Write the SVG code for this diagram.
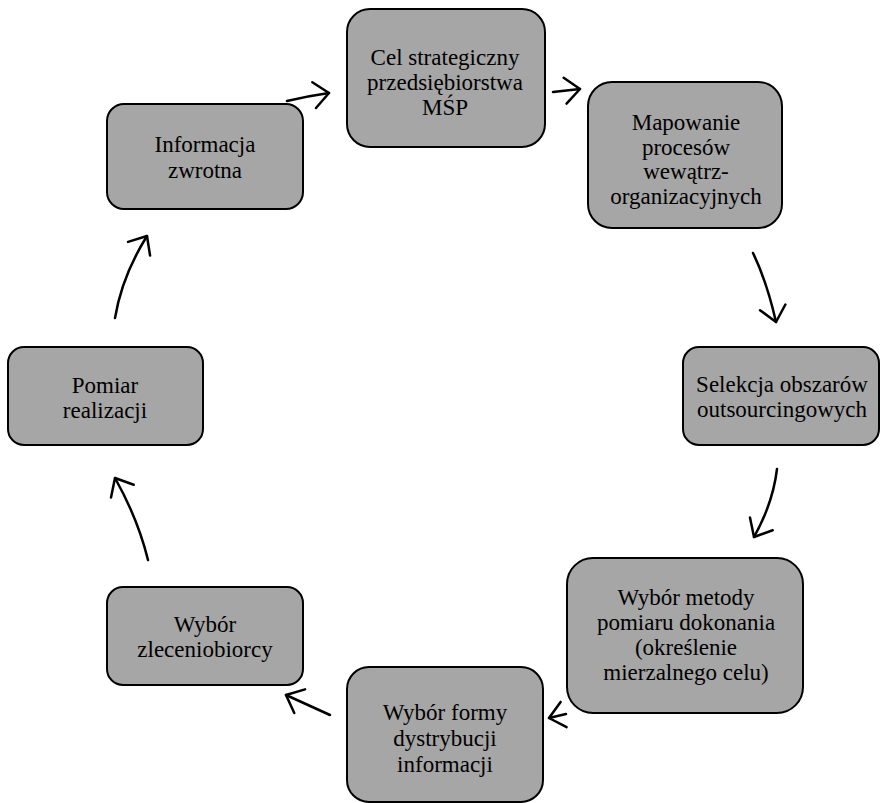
<svg xmlns="http://www.w3.org/2000/svg" width="880" height="803" viewBox="0 0 880 803">
<style>
.box{fill:#a6a6a6;stroke:#000;stroke-width:2}
.t{font-family:'Liberation Serif','Times New Roman',serif;font-size:23px;fill:#000;text-anchor:middle}
.c{fill:none;stroke:#000;stroke-width:2.5;stroke-linecap:round}
</style>
<defs>
<marker id="ah" markerUnits="userSpaceOnUse" viewBox="0 0 22 28" markerWidth="22" markerHeight="28" refX="19" refY="13" orient="auto" overflow="visible">
<path d="M4,0 L19,13 L4,26" fill="none" stroke="#000" stroke-width="2.5" stroke-linecap="round" stroke-linejoin="round"/>
</marker>
</defs>
<rect width="880" height="803" fill="#fff"/>
<g id="n1"><rect class="box" x="347" y="9" width="198" height="138" rx="23"/>
<text class="t" x="445" y="65">Cel strategiczny</text><text class="t" x="445" y="90">przedsiębiorstwa</text><text class="t" x="445" y="115">MŚP</text></g>
<g id="n2"><rect class="box" x="588" y="82" width="194" height="146" rx="24"/>
<text class="t" x="686" y="130">Mapowanie</text><text class="t" x="686" y="154.5">procesów</text><text class="t" x="686" y="179">wewątrz-</text><text class="t" x="686" y="203.5">organizacyjnych</text></g>
<g id="n3"><rect class="box" x="683" y="347" width="196" height="98" rx="16"/>
<text class="t" x="782" y="392">Selekcja obszarów</text><text class="t" x="782" y="417">outsourcingowych</text></g>
<g id="n4"><rect class="box" x="567" y="558" width="236" height="155" rx="26"/>
<text class="t" x="686" y="605">Wybór metody</text><text class="t" x="686" y="630">pomiaru dokonania</text><text class="t" x="686" y="655">(określenie</text><text class="t" x="686" y="680">mierzalnego celu)</text></g>
<g id="n5"><rect class="box" x="347" y="667" width="196" height="135" rx="22"/>
<text class="t" x="445" y="720">Wybór formy</text><text class="t" x="445" y="746">dystrybucji</text><text class="t" x="445" y="772">informacji</text></g>
<g id="n6"><rect class="box" x="107" y="587" width="196" height="98" rx="16"/>
<text class="t" x="205" y="632">Wybór</text><text class="t" x="205" y="657">zleceniobiorcy</text></g>
<g id="n7"><rect class="box" x="8" y="347" width="195" height="98" rx="16"/>
<text class="t" x="105" y="393">Pomiar</text><text class="t" x="105" y="418">realizacji</text></g>
<g id="n8"><rect class="box" x="107" y="104" width="196" height="105" rx="17"/>
<text class="t" x="205" y="152">Informacja</text><text class="t" x="205" y="178">zwrotna</text></g>
<g id="connectors">
<path class="c" d="M287,101 Q308,96 329,93" marker-end="url(#ah)"/>
<path class="c" d="M553,92 L580,89" marker-end="url(#ah)"/>
<path class="c" d="M753,253 Q767,282 776,322" marker-end="url(#ah)"/>
<path class="c" d="M777,469 Q773,503 754,537" marker-end="url(#ah)"/>
<path class="c" d="M566,714 L549,718" marker-end="url(#ah)"/>
<path class="c" d="M330,715 L286,695" marker-end="url(#ah)"/>
<path class="c" d="M148,560 Q138,519 115,478" marker-end="url(#ah)"/>
<path class="c" d="M115,318 Q122,276 147,236" marker-end="url(#ah)"/>
</g>
</svg>
